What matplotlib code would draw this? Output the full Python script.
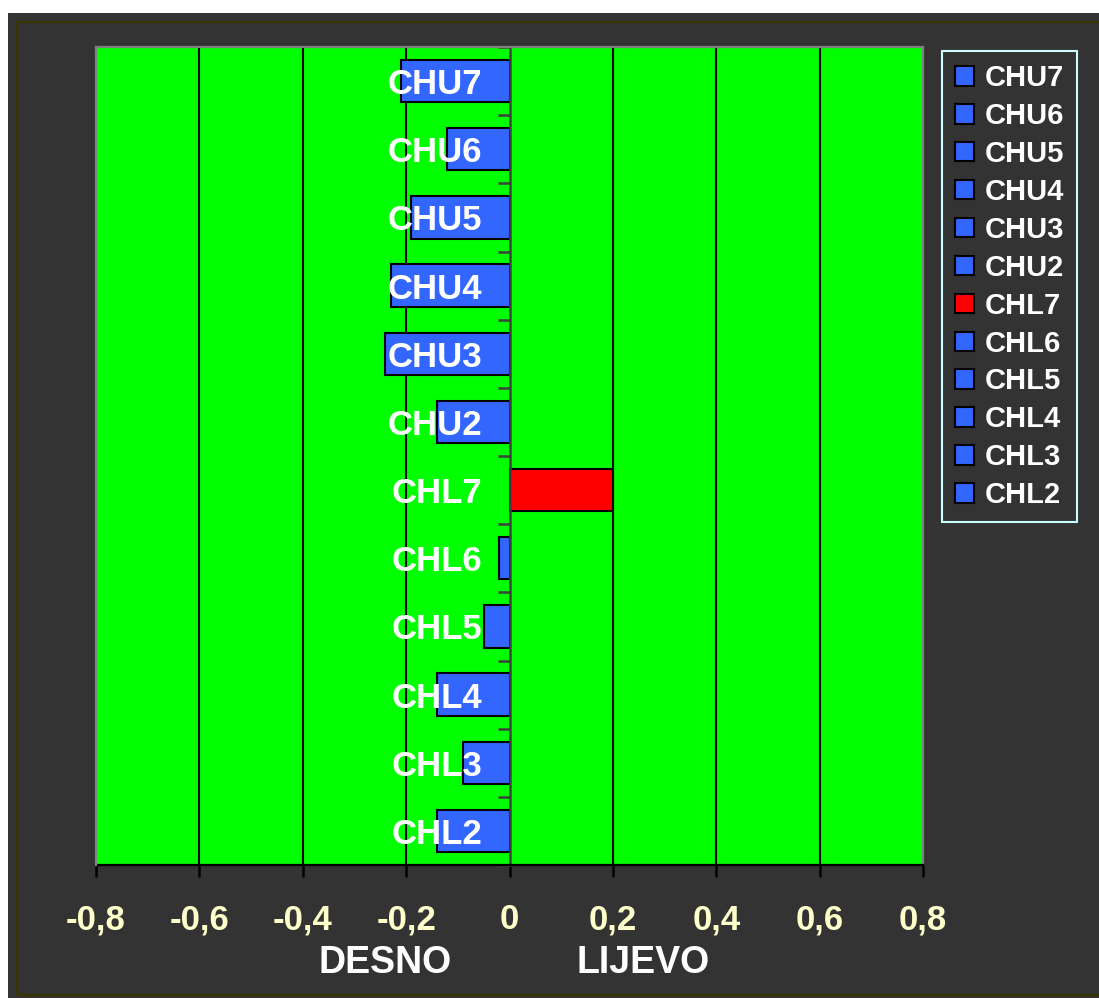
import matplotlib
matplotlib.use("Agg")
import matplotlib.pyplot as plt
from matplotlib.patches import Patch, Rectangle

# data, bottom to top as drawn
categories = ["CHL2", "CHL3", "CHL4", "CHL5", "CHL6", "CHL7",
              "CHU2", "CHU3", "CHU4", "CHU5", "CHU6", "CHU7"]
values = [-0.14, -0.09, -0.14, -0.05, -0.02, 0.20,
          -0.14, -0.24, -0.23, -0.19, -0.12, -0.21]
bar_colors = ["#3366ff", "#3366ff", "#3366ff", "#3366ff", "#3366ff", "#ff0000",
              "#3366ff", "#3366ff", "#3366ff", "#3366ff", "#3366ff", "#3366ff"]
xticks = [-0.8, -0.6, -0.4, -0.2, 0, 0.2, 0.4, 0.6, 0.8]
xtick_labels = ["-0,8", "-0,6", "-0,4", "-0,2", "0", "0,2", "0,4", "0,6", "0,8"]

plt.rcParams["font.family"] = ["Liberation Sans", "DejaVu Sans"]
plt.rcParams["font.weight"] = "bold"

W, H = 1099, 998
fig = plt.figure(figsize=(W / 100, H / 100), dpi=100, facecolor="white")

# dark background and olive frame
fig.patches.append(Rectangle((8 / W, 0), 1, (H - 13) / H, transform=fig.transFigure,
                             facecolor="#333333", edgecolor="none", zorder=-2))
fig.patches.append(Rectangle((17 / W, 3 / H), 1, (995 - 22) / H, transform=fig.transFigure,
                             facecolor="none", edgecolor="#3a3400", lw=1.6, zorder=-1))

ax = fig.add_axes([96 / W, (H - 865) / H, (923 - 96) / W, (865 - 47) / H])
ax.set_facecolor("#00ff00")

pos = list(range(len(categories)))
for x in xticks[1:-1]:
    if x != 0:
        ax.axvline(x, color="black", lw=1.5, zorder=0.5)

ax.barh(pos, values, height=0.62, color=bar_colors, edgecolor="black", lw=1.5, zorder=1)

ax.set_xlim(-0.8, 0.8)
ax.set_ylim(-0.5, len(categories) - 0.5)

# frame
for s in ["top", "right"]:
    ax.spines[s].set_color("#808080")
    ax.spines[s].set_linewidth(1.6)
ax.spines["bottom"].set_color("black")
ax.spines["bottom"].set_linewidth(1.6)
ax.axvline(-0.8, color="#808080", lw=1.6, clip_on=False, zorder=3)

# category axis sits at zero
ax.spines["left"].set_position(("data", 0))
ax.spines["left"].set_color("#404040")
ax.spines["left"].set_linewidth(1.8)
ax.set_yticks([p + 0.5 for p in [-1] + pos])
ax.set_yticklabels([])
ax.tick_params(axis="y", which="major", direction="out", length=8.5, width=1.8, color="#404040")
ax.set_yticks(pos, categories, minor=True)
ax.tick_params(axis="y", which="minor", length=0, pad=19.5, labelsize=25, labelcolor="white")

ax.set_xticks(xticks, xtick_labels)
ax.tick_params(axis="x", direction="out", length=8.5, width=1.8, color="black",
               pad=19, labelsize=25, labelcolor="#ffffcc")

fig.text(385 / W, 1 - 963 / H, "DESNO", color="white", fontsize=27, fontweight="bold",
         ha="center", va="center")
fig.text(643 / W, 1 - 963 / H, "LIJEVO", color="white", fontsize=27, fontweight="bold",
         ha="center", va="center")

handles = [Patch(facecolor=c, edgecolor="black", lw=1.5) for c in bar_colors[::-1]]
leg = fig.legend(handles, categories[::-1], loc="upper left",
                 bbox_to_anchor=(942 / W, 1 - 51 / H), borderaxespad=0,
                 fontsize=21, labelcolor="white", facecolor="#333333",
                 edgecolor="#ccffff", framealpha=1, fancybox=False,
                 handlelength=0.65, handleheight=0.65, handletextpad=0.35,
                 labelspacing=0.34, borderpad=0.45)
leg.get_frame().set_linewidth(1.5)

fig.savefig("out.png", dpi=100)
